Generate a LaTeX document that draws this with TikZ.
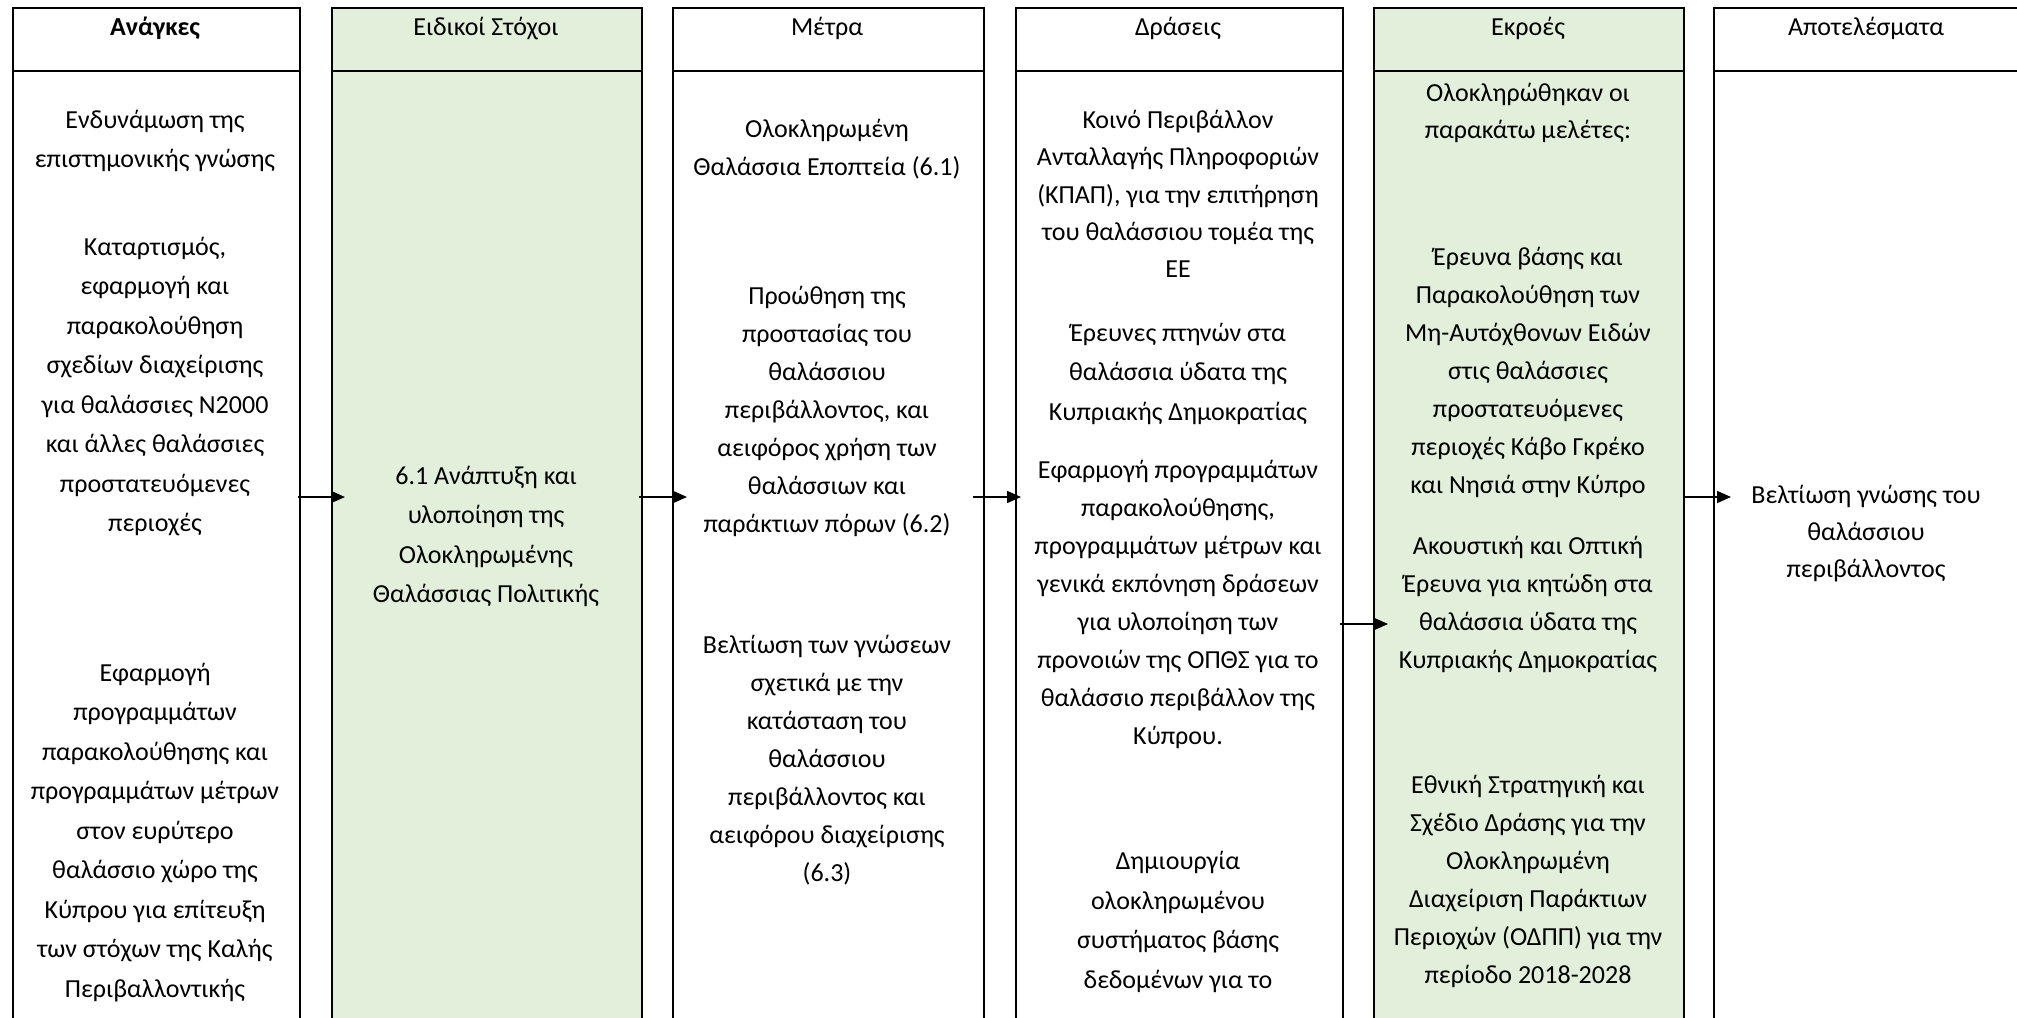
\documentclass[tikz,border=0pt]{standalone}
\usepackage{fontspec}
\setmainfont{Carlito}
\usetikzlibrary{arrows.meta,calc}
\definecolor{lgreen}{RGB}{226,239,218}
\begin{document}
\begin{tikzpicture}[x=1pt,y=-1pt,
  colbox/.style={draw, line width=2pt, inner sep=0pt, anchor=north west, minimum height=1023pt},
  greenbox/.style={colbox, fill=lgreen},
  sepline/.style={line width=2pt},
  txt/.style={font=\fontsize{26}{38}\selectfont, align=center, inner sep=0pt,
              execute at begin node=\strut, execute at end node=\strut},
  txtw/.style={txt, font=\fontsize{26}{39.5}\selectfont},
  txtn/.style={txt, font=\fontsize{26}{37.3}\selectfont},
  arr/.style={-{Triangle[length=14pt,width=12pt]}, line width=1.5pt},
]
\useasboundingbox (0,0) rectangle (2017,1017);
\clip (0,0) rectangle (2017,1017);

% column boxes
\node[colbox,   minimum width=287pt] (c1) at (12,7) {};
\node[greenbox, minimum width=310pt] (c2) at (331,7) {};
\node[colbox,   minimum width=311pt] (c3) at (672,7) {};
\node[colbox,   minimum width=327pt] (c4) at (1015,7) {};
\node[greenbox, minimum width=310pt] (c5) at (1373,7) {};
\node[colbox,   minimum width=317pt] (c6) at (1713,7) {};

\foreach \c in {c1,c2,c3,c4,c5,c6}
  \draw[sepline] (\c.west |- 0,71) -- (\c.east |- 0,71);

% headers
\node[txt] (h1) at (155,27.5) {\textbf{Ανάγκες}};
\node[txt] (h2) at (486,27.5) {Ειδικοί Στόχοι};
\node[txt] (h3) at (827,27.5) {Μέτρα};
\node[txt] (h4) at (1178,27.5) {Δράσεις};
\node[txt] (h5) at (1528,27.5) {Εκροές};
\node[txt] (h6) at (1866,27.5) {Αποτελέσματα};

% column 1
\node[txtw] (n1) at (155,145) {Ενδυνάμωση της\\επιστημονικής γνώσης};
\node[txtw] (n2) at (155,390.5) {Καταρτισμός,\\εφαρμογή και\\παρακολούθηση\\σχεδίων διαχείρισης\\για θαλάσσιες Ν2000\\και άλλες θαλάσσιες\\προστατευόμενες\\περιοχές};
\node[txtw] (n3) at (155,836) {Εφαρμογή\\προγραμμάτων\\παρακολούθησης και\\προγραμμάτων μέτρων\\στον ευρύτερο\\θαλάσσιο χώρο της\\Κύπρου για επίτευξη\\των στόχων της Καλής\\Περιβαλλοντικής};

% column 2
\node[txtw] (s1) at (486,540.5) {6.1 Ανάπτυξη και\\υλοποίηση της\\Ολοκληρωμένης\\Θαλάσσιας Πολιτικής};

% column 3
\node[txt] (m1) at (827,153) {Ολοκληρωμένη\\Θαλάσσια Εποπτεία (6.1)};
\node[txt] (m2) at (827,415) {Προώθηση της\\προστασίας του\\θαλάσσιου\\περιβάλλοντος, και\\αειφόρος χρήση των\\θαλάσσιων και\\παράκτιων πόρων (6.2)};
\node[txt] (m3) at (827,764) {Βελτίωση των γνώσεων\\σχετικά με την\\κατάσταση του\\θαλάσσιου\\περιβάλλοντος και\\αειφόρου διαχείρισης\\(6.3)};

% column 4
\node[txtn] (d1) at (1178,199.5) {Κοινό Περιβάλλον\\Ανταλλαγής Πληροφοριών\\(ΚΠΑΠ), για την επιτήρηση\\του θαλάσσιου τομέα της\\ΕΕ};
\node[txtw] (d2) at (1178,377.5) {Έρευνες πτηνών στα\\θαλάσσια ύδατα της\\Κυπριακής Δημοκρατίας};
\node[txt] (d3) at (1178,608) {Εφαρμογή προγραμμάτων\\παρακολούθησης,\\προγραμμάτων μέτρων και\\γενικά εκπόνηση δράσεων\\για υλοποίηση των\\προνοιών της ΟΠΘΣ για το\\θαλάσσιο περιβάλλον της\\Κύπρου.};
\node[txtw] (d4) at (1178,926) {Δημιουργία\\ολοκληρωμένου\\συστήματος βάσης\\δεδομένων για το};

% column 5
\node[txtn] (e1) at (1528,116.5) {Ολοκληρώθηκαν οι\\παρακάτω μελέτες:};
\node[txt] (e2) at (1528,376) {Έρευνα βάσης και\\Παρακολούθηση των\\Μη-Αυτόχθονων Ειδών\\στις θαλάσσιες\\προστατευόμενες\\περιοχές Κάβο Γκρέκο\\και Νησιά στην Κύπρο};
\node[txt] (e3) at (1528,608.5) {Ακουστική και Οπτική\\Έρευνα για κητώδη στα\\θαλάσσια ύδατα της\\Κυπριακής Δημοκρατίας};
\node[txt] (e4) at (1528,885) {Εθνική Στρατηγική και\\Σχέδιο Δράσης για την\\Ολοκληρωμένη\\Διαχείριση Παράκτιων\\Περιοχών (ΟΔΠΠ) για την\\περίοδο 2018-2028};

% column 6
\node[txtn] (r1) at (1866,537) {Βελτίωση γνώσης του\\θαλάσσιου\\περιβάλλοντος};

% arrows
\draw[arr] ($(c1.east |- 0,497)+(-3,0)$) -- ($(c2.west |- 0,497)+(14,0)$);
\draw[arr] ($(c2.east |- 0,497)+(-4,0)$) -- ($(c3.west |- 0,497)+(15,0)$);
\draw[arr] ($(c3.east |- 0,497)+(-12,0)$) -- ($(c4.west |- 0,497)+(6,0)$);
\draw[arr] ($(c4.east |- 0,624)+(-4,0)$) -- ($(c5.west |- 0,624)+(15,0)$);
\draw[arr] ($(c5.east |- 0,497)+(0,0)$) -- ($(c6.west |- 0,497)+(18,0)$);
\end{tikzpicture}
\end{document}
